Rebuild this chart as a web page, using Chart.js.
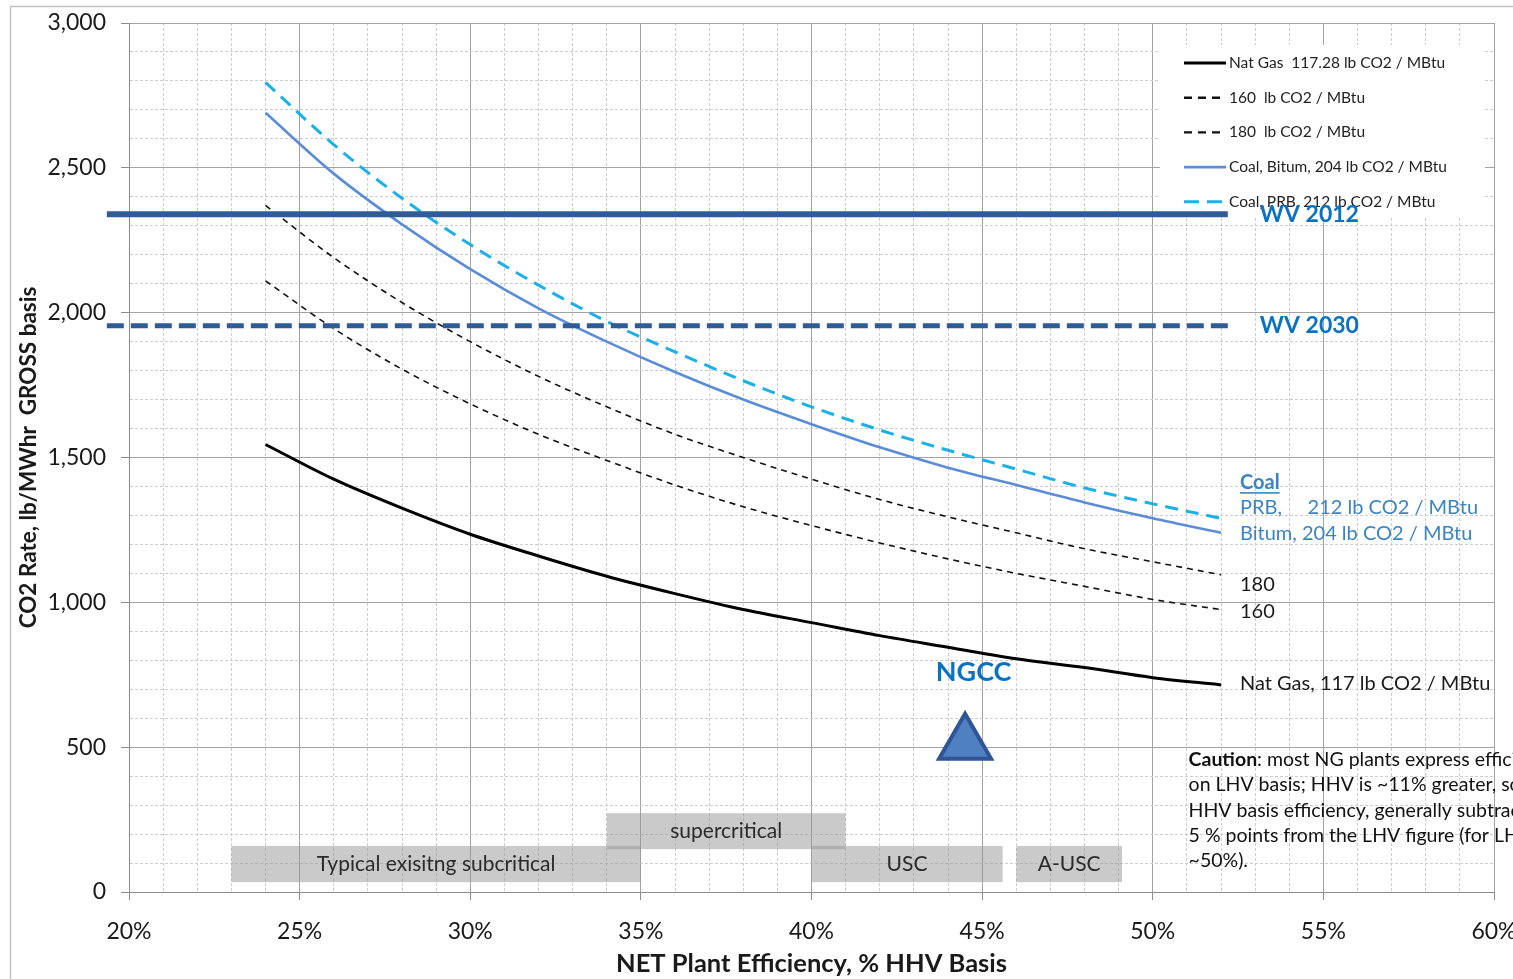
<!DOCTYPE html>
<html>
<head>
<meta charset="utf-8">
<title>CO2 Rate vs Net Plant Efficiency</title>
<script src="https://cdn.jsdelivr.net/npm/chart.js@4.4.1/dist/chart.umd.min.js"></script>
<style>
  html, body { margin: 0; padding: 0; background: #fff; overflow: hidden; }
  canvas { display: block; }
</style>
</head>
<body>
<canvas id="chart" width="1513" height="979"></canvas>
<script>
// Net plant efficiency (% HHV) at which each emission curve is tabulated
const efficiency = [24, 26, 28, 30, 32, 34, 36, 38, 40, 42, 44, 46, 48, 50, 52];

// CO2 rate, lb/MWhr gross, for each fuel carbon intensity
const natGas    = [1545, 1425, 1325, 1235, 1160, 1090, 1030, 975, 930, 885, 845, 805, 775, 740, 715];
const co2at160  = [2110, 1945, 1805, 1685, 1580, 1490, 1405, 1330, 1265, 1205, 1150, 1100, 1055, 1010, 975];
const co2at180  = [2370, 2190, 2035, 1900, 1780, 1675, 1580, 1500, 1425, 1355, 1295, 1240, 1185, 1140, 1095];
const coalBitum = [2690, 2480, 2305, 2150, 2015, 1900, 1795, 1700, 1615, 1535, 1465, 1405, 1345, 1290, 1240];
const coalPRB   = [2795, 2580, 2395, 2235, 2095, 1970, 1865, 1765, 1675, 1595, 1525, 1460, 1395, 1340, 1290];

// West Virginia standards (flat lines across the efficiency range)
const wvSpan = [19.35, 52.2];
const wv2012 = [2340, 2340];
const wv2030 = [1955, 1955];

// NGCC marker
const ngccEfficiency = [44.5];
const ngccRate = [512];

// Technology bands along the efficiency axis
const techLabels = ['Typical exisitng subcritical', 'supercritical', 'USC', 'A-USC'];
const techFrom   = [23, 34, 40, 46];
const techTo     = [35, 41, 45.6, 49.1];
const techRow    = [0, 1, 0, 0];

// Axis tick labels
const xTickValues = [20, 25, 30, 35, 40, 45, 50, 55, 60];
const yTickValues = [0, 500, 1000, 1500, 2000, 2500, 3000];

const legendLabels = [
  'Nat Gas  117.28 lb CO2 / MBtu',
  '160  lb CO2 / MBtu',
  '180  lb CO2 / MBtu',
  'Coal, Bitum, 204 lb CO2 / MBtu',
  'Coal, PRB, 212 lb CO2 / MBtu'
];

const FONT = 'Lato, "Open Sans", "DejaVu Sans", sans-serif';
const TEXT = '#1a1a1a';
const BLUE_TEXT = '#0b72c2';
const COAL_TEXT = '#3a84c6';

const pts = (xs, ys) => xs.map((x, i) => ({ x, y: ys[i] }));

const curve = (label, ys, color, width, dash) => ({
  label, data: pts(efficiency, ys),
  borderColor: color, backgroundColor: color, borderWidth: width,
  borderDash: dash, pointRadius: 0, fill: false,
  cubicInterpolationMode: 'monotone', order: 2
});

const datasets = [
  curve(legendLabels[0], natGas, '#000000', 3, []),
  curve(legendLabels[1], co2at160, '#111111', 1.6, [6, 5]),
  curve(legendLabels[2], co2at180, '#111111', 1.6, [6, 5]),
  curve(legendLabels[3], coalBitum, '#5b8dd6', 2.6, []),
  curve(legendLabels[4], coalPRB, '#1cb1e6', 3, [13, 8]),
  {
    label: 'WV 2012', data: pts(wvSpan, wv2012), borderColor: '#2f5b96',
    borderWidth: 6, pointRadius: 0, clip: false, order: 1
  },
  {
    label: 'WV 2030', data: pts(wvSpan, wv2030), borderColor: '#2f5b96',
    borderWidth: 5, borderDash: [17, 7], pointRadius: 0, clip: false, order: 1
  },
  {
    label: 'NGCC', data: pts(ngccEfficiency, ngccRate), showLine: false,
    pointStyle: 'triangle', pointRadius: 30, pointBorderWidth: 4,
    pointBackgroundColor: '#4f80c2', pointBorderColor: '#2f5597', order: 0
  }
];

const isMajorX = v => Math.abs(v % 5) < 1e-9;
const isMajorY = v => Math.abs(v % 500) < 1e-9;

// Everything drawn around the series: frame, tech bands, legend, annotations
const decorations = {
  id: 'decorations',
  beforeDraw(chart) {
    const { ctx, width, height } = chart;
    ctx.save();
    ctx.fillStyle = '#ffffff';
    ctx.fillRect(0, 0, width, height);
    ctx.strokeStyle = '#c3c3c3';
    ctx.lineWidth = 1.5;
    ctx.beginPath();
    ctx.moveTo(10.5, height);
    ctx.lineTo(10.5, 6.5);
    ctx.lineTo(width, 6.5);
    ctx.stroke();
    ctx.restore();
  },
  beforeDatasetsDraw(chart, args, opts) {
    const { ctx, scales: { x, y } } = chart;
    ctx.save();
    // technology bands
    techLabels.forEach((label, i) => {
      const band = opts.bandRows[techRow[i]];
      const x0 = x.getPixelForValue(techFrom[i]);
      const x1 = x.getPixelForValue(techTo[i]);
      const y0 = y.getPixelForValue(band[1]);
      const y1 = y.getPixelForValue(band[0]);
      ctx.fillStyle = 'rgba(150,150,150,0.5)';
      ctx.fillRect(x0, y0, x1 - x0, y1 - y0);
    });
    techLabels.forEach((label, i) => {
      const band = opts.bandRows[techRow[i]];
      const cx = (x.getPixelForValue(techFrom[i]) + x.getPixelForValue(techTo[i])) / 2;
      const cy = y.getPixelForValue((band[0] + band[1]) / 2);
      ctx.fillStyle = '#2a2a2a';
      ctx.font = `21px ${FONT}`;
      ctx.textAlign = 'center';
      ctx.textBaseline = 'middle';
      ctx.fillText(label, cx, cy);
    });

    // legend panel
    const L = opts.legend;
    ctx.fillStyle = '#ffffff';
    ctx.fillRect(L.left, L.top, L.width, L.height);
    ctx.font = `15.5px ${FONT}`;
    ctx.textAlign = 'left';
    ctx.textBaseline = 'middle';
    legendLabels.forEach((label, i) => {
      const ds = chart.data.datasets[i];
      const ly = L.firstRow + i * L.rowGap;
      ctx.save();
      ctx.strokeStyle = ds.borderColor;
      ctx.lineWidth = Math.max(ds.borderWidth, 2.4);
      ctx.setLineDash(i === 4 ? [15, 8] : (i === 1 || i === 2 ? [8, 6] : []));
      ctx.lineDashOffset = 0;
      ctx.beginPath();
      ctx.moveTo(L.sampleX, ly);
      ctx.lineTo(L.sampleX + L.sampleW, ly);
      ctx.stroke();
      ctx.restore();
      ctx.fillStyle = '#222';
      ctx.fillText(label, L.sampleX + L.sampleW + 3, ly);
    });
    ctx.restore();
  },
  afterDatasetsDraw(chart, args, opts) {
    const { ctx, scales: { x, y } } = chart;
    ctx.save();
    ctx.textBaseline = 'middle';
    ctx.textAlign = 'left';

    // WV standard labels
    ctx.fillStyle = BLUE_TEXT;
    ctx.font = `bold 23px ${FONT}`;
    const wvX = x.getPixelForValue(wvSpan[1]) + 32;
    ctx.fillText('WV 2012', wvX, y.getPixelForValue(wv2012[0]));
    ctx.fillText('WV 2030', wvX, y.getPixelForValue(wv2030[0]));

    // NGCC label above marker
    ctx.textAlign = 'center';
    ctx.font = `bold 27px ${FONT}`;
    ctx.fillText('NGCC', x.getPixelForValue(opts.ngccLabel[0]), y.getPixelForValue(opts.ngccLabel[1]));

    // curve end labels
    ctx.textAlign = 'left';
    const ex = x.getPixelForValue(efficiency[efficiency.length - 1]) + 19;
    opts.endLabels.forEach(item => {
      const py = y.getPixelForValue(item.at);
      ctx.fillStyle = item.color;
      ctx.font = `${item.bold ? 'bold ' : ''}20px ${FONT}`;
      ctx.fillText(item.text, ex, py);
      if (item.underline) {
        const w = ctx.measureText(item.text).width;
        ctx.fillRect(ex, py + 10, w, 1.6);
      }
    });

    // caution note
    const cx = x.getPixelForValue(opts.caution.at[0]);
    let cy = y.getPixelForValue(opts.caution.at[1]);
    ctx.fillStyle = '#111';
    opts.caution.lines.forEach((line, i) => {
      let px = cx;
      if (i === 0) {
        ctx.font = `bold 19.5px ${FONT}`;
        ctx.fillText('Caution', px, cy);
        px += ctx.measureText('Caution').width;
      }
      ctx.font = `19.5px ${FONT}`;
      ctx.fillText(line, px, cy);
      cy += opts.caution.lineGap;
    });
    ctx.restore();
  }
};

new Chart(document.getElementById('chart'), {
  type: 'line',
  data: { datasets },
  plugins: [decorations],
  options: {
    responsive: false,
    animation: false,
    events: [],
    layout: { autoPadding: false, padding: { left: 0, right: 19, top: 23, bottom: 0 } },
    plugins: {
      legend: { display: false },
      tooltip: { enabled: false },
      decorations: {
        bandRows: [[34, 159], [148, 272]],
        legend: { left: 1160, top: 45, width: 325, height: 172, sampleX: 1184, sampleW: 42, firstRow: 63, rowGap: 34.7 },
        ngccLabel: [44.75, 759],
        endLabels: [
          { text: 'Coal', at: 1415, color: COAL_TEXT, bold: true, underline: true },
          { text: 'PRB,     212 lb CO2 / MBtu', at: 1326, color: COAL_TEXT },
          { text: 'Bitum, 204 lb CO2 / MBtu', at: 1236, color: COAL_TEXT },
          { text: '180', at: 1063, color: TEXT },
          { text: '160', at: 967, color: TEXT },
          { text: 'Nat Gas, 117 lb CO2 / MBtu', at: 718, color: TEXT }
        ],
        caution: {
          at: [51.05, 456],
          lineGap: 25.3,
          lines: [
            ': most NG plants express efficiency',
            'on LHV basis; HHV is ~11% greater, so for',
            'HHV basis efficiency, generally subtract',
            '5 % points from the LHV figure (for LHV',
            '~50%).'
          ]
        }
      }
    },
    scales: {
      x: {
        type: 'linear',
        min: 20,
        max: 60,
        afterFit(s) { s.height = 87; s.paddingLeft = 0; s.paddingRight = 0; },
        ticks: {
          stepSize: 1,
          autoSkip: false,
          maxRotation: 0,
          padding: 18,
          color: TEXT,
          font: { family: FONT, size: 23 },
          callback: v => (xTickValues.includes(v) ? v + '%' : '')
        },
        grid: {
          color: c => (c.tick && isMajorX(c.tick.value) ? '#a3a3a3' : '#cdcdcd'),
          lineWidth: 1,
          tickLength: 8,
          tickColor: c => (c.tick && isMajorX(c.tick.value) ? '#8c8c8c' : 'rgba(0,0,0,0)')
        },
        border: {
          color: '#8c8c8c',
          width: 1,
          dash: c => (c.tick && !isMajorX(c.tick.value) ? [3, 2] : [])
        },
        title: {
          display: true,
          text: 'NET Plant Efficiency, % HHV Basis',
          color: TEXT,
          font: { family: FONT, size: 25.5, weight: 'bold' },
          padding: { top: 0, bottom: 0 }
        }
      },
      y: {
        min: 0,
        max: 3000,
        afterFit(s) { s.width = 129; s.paddingTop = 0; s.paddingBottom = 0; },
        ticks: {
          stepSize: 100,
          autoSkip: false,
          padding: 15,
          color: TEXT,
          font: { family: FONT, size: 23 },
          callback: v => (yTickValues.includes(v) ? v.toLocaleString('en-US') : '')
        },
        grid: {
          color: c => (c.tick && isMajorY(c.tick.value) ? '#a3a3a3' : '#cdcdcd'),
          lineWidth: 1,
          tickLength: 8,
          tickColor: c => (c.tick && isMajorY(c.tick.value) ? '#8c8c8c' : 'rgba(0,0,0,0)')
        },
        border: {
          color: '#8c8c8c',
          width: 1,
          dash: c => (c.tick && !isMajorY(c.tick.value) ? [3, 2] : [])
        },
        title: {
          display: true,
          text: 'CO2 Rate, lb/MWhr  GROSS basis',
          color: TEXT,
          font: { family: FONT, size: 22.5, weight: 'bold' },
          padding: { top: 15, bottom: 0 }
        }
      }
    }
  }
});
</script>
</body>
</html>
